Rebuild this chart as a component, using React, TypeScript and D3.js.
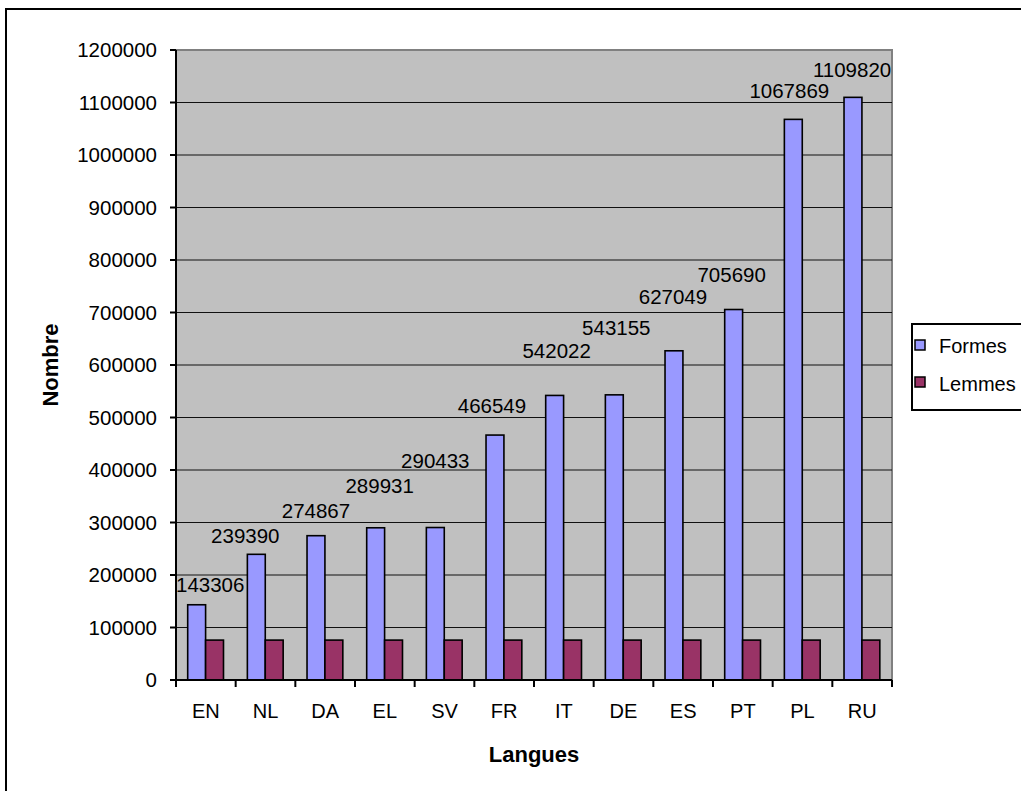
import React from "react";
import * as d3 from "d3";

const categories = ["EN", "NL", "DA", "EL", "SV", "FR", "IT", "DE", "ES", "PT", "PL", "RU"];
const formes = [143306, 239390, 274867, 289931, 290433, 466549, 542022, 543155, 627049, 705690, 1067869, 1109820];
const lemmes = [76000, 76000, 76000, 76000, 76000, 76000, 76000, 76000, 76000, 76000, 76000, 76000];
const yTicks = [0, 100000, 200000, 300000, 400000, 500000, 600000, 700000, 800000, 900000, 1000000, 1100000, 1200000];
const seriesNames = ["Formes", "Lemmes"];

// layout: label placement (pixels above bar top, horizontal nudge), as in the reference
const labelLift = [13, 11, 18, 35, 60, 22, 37, 60, 47, 28, 21, 20];
const labelDx = [0, -11, 0, 4, 0, -3, 2, 2, -1, -2, -4, 0];

const W = 1021;
const H = 791;
const plot = { left: 176, right: 892, top: 50, bottom: 680 };
const colors = ["#9999FF", "#993366"];
const FONT = "'Liberation Sans', Arial, sans-serif";

export default function App() {
  const x = d3.scaleBand<string>().domain(categories).range([plot.left, plot.right]).paddingInner(0).paddingOuter(0);
  const bw = x.bandwidth();
  const barW = bw * 0.3;
  const off = bw * 0.196;
  const y = d3.scaleLinear().domain([0, 1200000]).range([plot.bottom, plot.top]);
  const fmt = d3.format("d");
  const charW = 11.4;

  return (
    <svg width={W} height={H} style={{ position: "absolute", left: 0, top: 0, background: "#fff" }} fontFamily={FONT}>
      <rect x={6} y={9} width={1040} height={820} fill="#fff" stroke="#000" strokeWidth={2} />
      <rect x={plot.left} y={plot.top} width={plot.right - plot.left} height={plot.bottom - plot.top} fill="#C0C0C0" stroke="#808080" strokeWidth={2} />
      {yTicks.slice(1, -1).map((t) => (
        <line key={t} x1={plot.left} x2={plot.right} y1={y(t)} y2={y(t)} stroke="#111" strokeWidth={1.2} />
      ))}
      {categories.map((c, i) => {
        const x0 = x(c)!;
        return (
          <g key={c}>
            <rect x={x0 + off} y={y(formes[i])} width={barW} height={y(0) - y(formes[i])} fill={colors[0]} stroke="#000" strokeWidth={1.6} />
            <rect x={x0 + off + barW} y={y(lemmes[i])} width={barW} height={y(0) - y(lemmes[i])} fill={colors[1]} stroke="#000" strokeWidth={1.6} />
          </g>
        );
      })}
      {/* axes */}
      <line x1={plot.left} x2={plot.left} y1={plot.top} y2={plot.bottom} stroke="#000" strokeWidth={2} />
      <line x1={plot.left} x2={plot.right} y1={plot.bottom} y2={plot.bottom} stroke="#000" strokeWidth={2} />
      {yTicks.map((t) => (
        <g key={t}>
          <line x1={plot.left - 6} x2={plot.left} y1={y(t)} y2={y(t)} stroke="#000" strokeWidth={2} />
          <text x={157} y={y(t)} dy="0.35em" textAnchor="end" fontSize={20.5} fill="#000">{fmt(t)}</text>
        </g>
      ))}
      {d3.range(categories.length + 1).map((i) => {
        const xx = plot.left + i * bw;
        return <line key={i} x1={xx} x2={xx} y1={plot.bottom} y2={plot.bottom + 7} stroke="#000" strokeWidth={2} />;
      })}
      {categories.map((c) => (
        <text key={c} x={x(c)! + bw / 2} y={718} textAnchor="middle" fontSize={20} fill="#000">{c}</text>
      ))}
      {/* data labels */}
      {categories.map((c, i) => {
        const label = fmt(formes[i]);
        const half = (label.length * charW) / 2;
        let cx = x(c)! + off + barW / 2;
        cx = Math.max(plot.left + half, Math.min(plot.right - half, cx));
        cx += labelDx[i];
        return (
          <text key={c} x={cx} y={y(formes[i]) - labelLift[i]} textAnchor="middle" fontSize={20.5} fill="#000">{label}</text>
        );
      })}
      {/* axis titles */}
      <text x={(plot.left + plot.right) / 2} y={762} textAnchor="middle" fontSize={22} fontWeight="bold" fill="#000">Langues</text>
      <text transform={`translate(58,${(plot.top + plot.bottom) / 2}) rotate(-90)`} textAnchor="middle" fontSize={22} fontWeight="bold" fill="#000">Nombre</text>
      {/* legend */}
      <rect x={912} y={324} width={130} height={86} fill="#fff" stroke="#000" strokeWidth={2} />
      {seriesNames.map((s, i) => (
        <g key={s}>
          <rect x={915} y={340 + i * 37} width={10} height={10} fill={colors[i]} stroke="#000" strokeWidth={1.5} />
          <text x={939} y={353 + i * 38} fontSize={20} fill="#000">{s}</text>
        </g>
      ))}
    </svg>
  );
}
